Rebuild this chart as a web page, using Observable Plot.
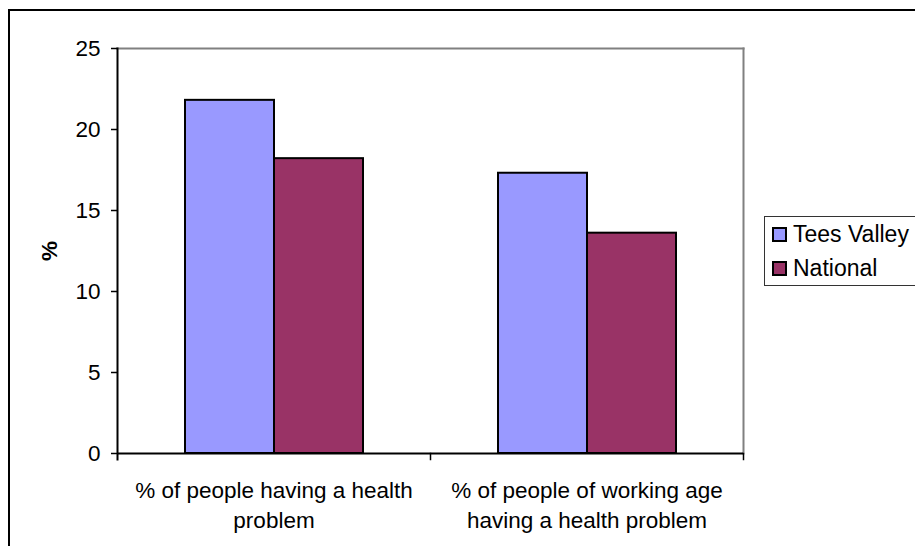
<!DOCTYPE html>
<html>
<head>
<meta charset="utf-8">
<script src="https://cdn.jsdelivr.net/npm/d3@7"></script>
<script src="https://cdn.jsdelivr.net/npm/@observablehq/plot@0.6"></script>
<style>
  html, body { margin: 0; padding: 0; background: #fff; overflow: hidden; }
  #chart { position: relative; width: 915px; height: 546px; font-family: "Liberation Sans", Arial, sans-serif; }
  #chart svg { position: absolute; left: 0; top: 0; }
  #border { position: absolute; left: 8px; top: 9px; width: 1000px; height: 1000px; border: 2px solid #000; pointer-events: none; }
  #legend { position: absolute; left: 764px; top: 216px; width: 170px; height: 68px; border: 1px solid #333; background: #fff; }
  #legend .item { display: flex; align-items: center; height: 34px; padding-left: 7px; font-size: 23px; color: #000; }
  #legend .sw { width: 11px; height: 11px; border: 2px solid #000; margin-right: 6px; }
</style>
</head>
<body>
<div id="chart"><div id="border"></div></div>
<script>
// Share of people with a health problem, Tees Valley vs. national
const categories = [
  "% of people having a health problem",
  "% of people of working age having a health problem"
];
const categoryLabels = [
  "% of people having a health\nproblem",
  "% of people of working age\nhaving a health problem"
];
const series = ["Tees Valley", "National"];
const teesValley = [21.8, 17.3];
const national = [18.2, 13.6];
const yTicks = [0, 5, 10, 15, 20, 25];
const seriesColors = ["#9999FF", "#993366"];

const rows = [];
categories.forEach((c, i) => {
  rows.push({category: c, series: series[0], value: teesValley[i]});
  rows.push({category: c, series: series[1], value: national[i]});
});

const W = 915, H = 546;
const mTop = 48, mBottom = 93, mLeft = 116, mRight = 172;
const innerH = H - mTop - mBottom;
const font = "22.5px";
const grey = "#808080";

const plot = Plot.plot({
  width: W,
  height: H,
  marginTop: mTop,
  marginBottom: mBottom,
  marginLeft: mLeft,
  marginRight: mRight,
  style: {fontFamily: "'Liberation Sans', Arial, sans-serif", fontSize: font, color: "#000", background: "transparent"},
  fx: {domain: categories, paddingInner: 0, paddingOuter: 0},
  x: {domain: series, paddingInner: 0, paddingOuter: 0.742, axis: null},
  y: {domain: [0, 25]},
  color: {domain: series, range: seriesColors},
  marks: [
    // plot-area border: grey top and right, black axis on the left
    Plot.frame({anchor: "top", facet: "super", stroke: grey, strokeWidth: 2}),
    Plot.frame({anchor: "right", facet: "super", stroke: grey, strokeWidth: 2}),
    Plot.barY(rows, {fx: "category", x: "series", y: "value", fill: "series", stroke: "#000", strokeWidth: 2}),
    Plot.ruleY([0], {stroke: "#000", strokeWidth: 2}),
    Plot.frame({anchor: "left", facet: "super", insetBottom: -6, stroke: "#000", strokeWidth: 2}),
    // category-boundary ticks below the baseline
    Plot.frame({anchor: "right", insetTop: innerH, insetBottom: -6, stroke: "#000", strokeWidth: 1.5}),
    Plot.axisY({ticks: yTicks, tickSize: 6, tickPadding: 11, strokeWidth: 1.5, label: "%", labelAnchor: "center", labelArrow: "none", labelOffset: 76, fontSize: font}),
    Plot.axisFx({anchor: "bottom", tickSize: 0, tickPadding: 23, label: null, lineHeight: 30 / 22.5, fontSize: font,
      tickFormat: (d) => categoryLabels[categories.indexOf(d)]})
  ]
});

// bold y-axis label
plot.querySelectorAll("text").forEach((t) => { if (t.textContent === "%") t.style.fontWeight = "bold"; });

const chart = document.getElementById("chart");
chart.insertBefore(plot, chart.firstChild);

// legend
const colorScale = plot.scale("color");
const legend = document.createElement("div");
legend.id = "legend";
colorScale.domain.forEach((name, i) => {
  const item = document.createElement("div");
  item.className = "item";
  const sw = document.createElement("div");
  sw.className = "sw";
  sw.style.background = colorScale.range[i];
  item.appendChild(sw);
  item.appendChild(document.createTextNode(name));
  legend.appendChild(item);
});
chart.appendChild(legend);
</script>
</body>
</html>
